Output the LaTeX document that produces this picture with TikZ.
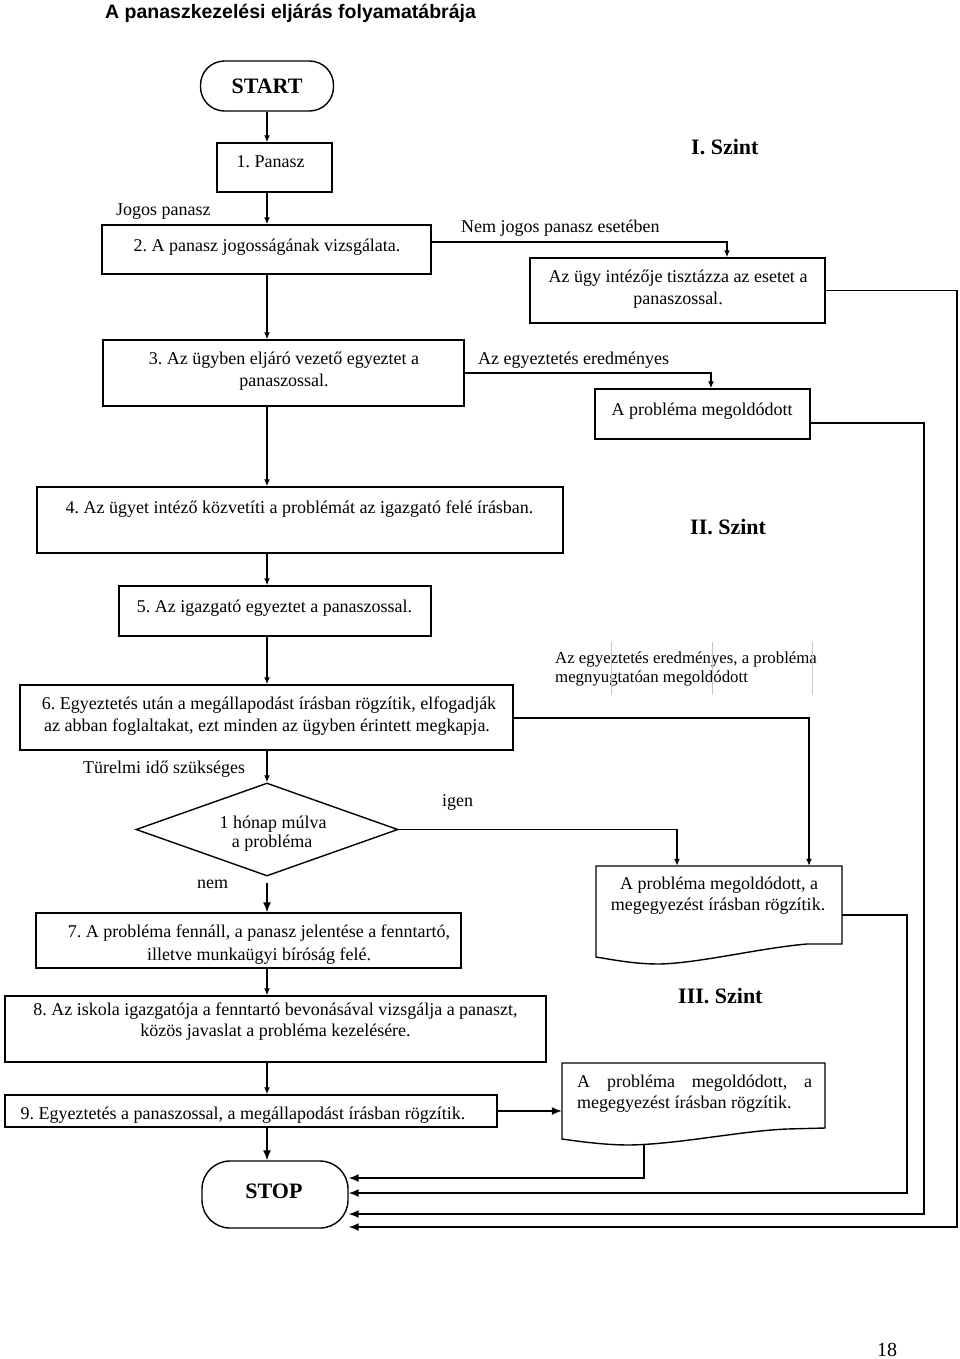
\documentclass[tikz,border=0pt]{standalone}
\usepackage{fontspec}
\setmainfont{Liberation Serif}
\newfontfamily\titlefont{Liberation Sans}
\usetikzlibrary{arrows.meta,shapes.geometric}
\begin{document}
\frenchspacing
\begin{tikzpicture}[x=1pt,y=-1pt,
  box/.style={draw, inner sep=0pt, line width=1.4pt},
  arr/.style={-{Latex[length=7pt,width=6pt]}, line width=1.4pt},
  arrbig/.style={-{Latex[length=10pt,width=8pt]}, line width=1.5pt},
  txt/.style={inner sep=0pt, anchor=base, font=\fontsize{18}{21.6}\selectfont},
  txtw/.style={txt, anchor=base west},
  small/.style={inner sep=0pt, anchor=base west, font=\fontsize{16.8}{19}\selectfont},
  lvl/.style={inner sep=0pt, anchor=base west, font=\fontsize{22}{26}\selectfont\bfseries},
  grid/.style={gray!45, line width=0.6pt}
]
\fill[white] (0,0) rectangle (960,1359);
\useasboundingbox (0,0) rectangle (960,1359);

% title
\node[inner sep=0pt, anchor=base west, font=\titlefont\bfseries\fontsize{19.5}{23}\selectfont] (title) at (105,19) {A panaszkezelési eljárás folyamatábrája};

% shapes
\node[box, minimum width=133pt, minimum height=50pt, rounded corners=24pt] (start) at (267,86) {};
\node[box, minimum width=115pt, minimum height=49pt] (b1) at (274.5,167.5) {};
\node[box, minimum width=329pt, minimum height=49pt] (b2) at (266.5,249.5) {};
\node[box, minimum width=295pt, minimum height=65pt] (bA) at (677.5,290.5) {};
\node[box, minimum width=361pt, minimum height=66pt] (b3) at (283.5,373) {};
\node[box, minimum width=215pt, minimum height=50pt] (bB) at (702.5,414) {};
\node[box, minimum width=526pt, minimum height=66pt] (b4) at (300,520) {};
\node[box, minimum width=312pt, minimum height=50pt] (b5) at (275,611) {};
\node[box, minimum width=493pt, minimum height=65pt] (b6) at (266.5,717.5) {};
\node[draw, diamond, inner sep=0pt, minimum width=262pt, minimum height=93pt, line width=1.4pt] (dia) at (267,829.5) {};
\node[box, minimum width=425pt, minimum height=55pt] (b7) at (248.5,940.5) {};
\node[box, minimum width=541pt, minimum height=66pt] (b8) at (275.5,1029) {};
\node[box, minimum width=492pt, minimum height=32pt] (b9) at (251,1111) {};
\node[box, minimum width=146pt, minimum height=67pt, rounded corners=28pt] (stop) at (275,1194.5) {};

% document shapes
\node[inner sep=0pt, minimum width=246pt, minimum height=78pt] (d1) at (719,905) {};
\draw[line width=1.4pt] (596,957) -- (596,866) -- (842,866) -- (842,944) -- (807,944)
  .. controls (760,948) and (700,963) .. (660,964)
  .. controls (640,964) and (625,962) .. (596,957) -- cycle;
\node[inner sep=0pt, minimum width=263pt, minimum height=65pt] (d2) at (693.5,1095.5) {};
\draw[line width=1.4pt] (562,1139) -- (562,1063) -- (825,1063) -- (825,1128) -- (787,1129)
  .. controls (740,1131) and (680,1144) .. (630,1145)
  .. controls (610,1145) and (590,1143) .. (562,1139) -- cycle;

% texts
\node[lvl, anchor=base] (tstart) at (267,94) {START};
\node[txt] (t1) at (270.5,168) {1. Panasz};
\node[txtw] (tjogos) at (116,215) {Jogos panasz};
\node[txt] (t2) at (267,251) {2. A panasz jogosságának vizsgálata.};
\node[txtw] (tnem) at (461,232) {Nem jogos panasz esetében};
\node[lvl] (lvl1) at (691,155) {I. Szint};
\node[txt] (tAa) at (678,282) {Az ügy intézője tisztázza az esetet a};
\node[txt] (tAb) at (678,304) {panaszossal.};
\node[txt] (t3a) at (284,364) {3. Az ügyben eljáró vezető egyeztet a};
\node[txt] (t3b) at (284,386) {panaszossal.};
\node[txtw] (tered) at (478,364) {Az egyeztetés eredményes};
\node[txt] (tB) at (702,415) {A probléma megoldódott};
\node[txt] (t4) at (299.5,513) {4. Az ügyet intéző közvetíti a problémát az igazgató felé írásban.};
\node[lvl] (lvl2) at (690,534) {II. Szint};
\node[txt] (t5) at (274.5,612) {5. Az igazgató egyeztet a panaszossal.};
\node[small] (tmega) at (555,663) {Az egyeztetés eredményes, a probléma};
\node[small] (tmegb) at (555,682) {megnyugtatóan megoldódott};
\draw[grid] (611,642) -- (611,695);
\draw[grid] (712,642) -- (712,695);
\draw[grid] (812,642) -- (812,695);
\node[txt] (t6a) at (269,709) {6. Egyeztetés után a megállapodást írásban rögzítik, elfogadják};
\node[txt] (t6b) at (267,731) {az abban foglaltakat, ezt minden az ügyben érintett megkapja.};
\node[txtw] (tturelmi) at (83,773) {Türelmi idő szükséges};
\node[txtw] (tigen) at (442,806) {igen};
\node[txt] (tda) at (273,828) {1 hónap múlva};
\begin{scope}
  \clip (200,830) rectangle (340,850);
  \node[txt] (tdb) at (272,847) {a probléma};
\end{scope}
\node[txtw] (tnemx) at (197,888) {nem};
\node[txt] (td1a) at (719,889) {A probléma megoldódott, a};
\node[txt] (td1b) at (718,910) {megegyezést írásban rögzítik.};
\node[txt] (t7a) at (259,937) {7. A probléma fennáll, a panasz jelentése a fenntartó,};
\begin{scope}
  \clip (60,945) rectangle (440,963);
  \node[txt] (t7b) at (259,960) {illetve munkaügyi bíróság felé.};
\end{scope}
\node[lvl] (lvl3) at (678,1003) {III. Szint};
\node[txt] (t8a) at (275.5,1015) {8. Az iskola igazgatója a fenntartó bevonásával vizsgálja a panaszt,};
\node[txt] (t8b) at (275.5,1036) {közös javaslat a probléma kezelésére.};
\begin{scope}
  \clip (6,1098) rectangle (495,1123);
  \node[txt] (t9) at (243,1119) {9. Egyeztetés a panaszossal, a megállapodást írásban rögzítik.};
\end{scope}
\node[txtw] (td2a) at (577,1087) {\makebox[235pt][s]{A probléma megoldódott, a}};
\node[txtw] (td2b) at (577,1108) {megegyezést írásban rögzítik.};
\node[lvl, anchor=base] (tstop) at (274,1198) {STOP};
\node[inner sep=0pt, anchor=base west, font=\fontsize{20}{24}\selectfont] (page) at (877,1356) {18};

% connectors
\coordinate (sp) at (267,0);
\draw[arr] (start.south) -- (b1.north -| start.south);
\draw[arr] (b1.south -| sp) -- (b2.north -| sp);
\draw[arr] (b2.south -| sp) -- (b3.north -| sp);
\draw[arr] (b3.south -| sp) -- (b4.north -| sp);
\draw[arr] (b4.south -| sp) -- (b5.north -| sp);
\draw[arr] (b5.south -| sp) -- (b6.north -| sp);
\draw[arr] (b6.south -| sp) -- (dia.north);
\draw[arrbig] ([yshift=-6pt]dia.south) -- (b7.north -| sp);
\draw[arr] (b7.south -| sp) -- (b8.north -| sp);
\draw[arr] (b8.south -| sp) -- (b9.north -| sp);
\draw[arrbig] (b9.south -| sp) -- (stop.north -| sp);

\draw[arr] ([yshift=7.5pt]b2.east) -| ([xshift=49.5pt]bA.north);
\draw[arr] (b3.east) -| ([xshift=8.5pt]bB.north);
\draw[arr] ([yshift=-0.5pt]b6.east) -| ([xshift=90pt]d1.north);
\draw[arr] (dia.east) -| ([xshift=-42pt]d1.north);
\draw[arrbig] (b9.east) -- (b9.east -| d2.west);

\coordinate (r1) at (957,1227);
\coordinate (r2) at (924,1214);
\coordinate (r3) at (907,1193);
\coordinate (r4) at (644,1178);
\coordinate (d2b) at (644,1144);
\draw[arrbig] (bA.east) -| (r1) -- (r1 -| stop.east);
\draw[arrbig] ([yshift=-9pt]bB.east) -| (r2) -- (r2 -| stop.east);
\draw[arrbig] ([yshift=-10pt]d1.east) -| (r3) -- (r3 -| stop.east);
\draw[arrbig] (d2b) -- (r4) -- (r4 -| stop.east);
\end{tikzpicture}
\end{document}
